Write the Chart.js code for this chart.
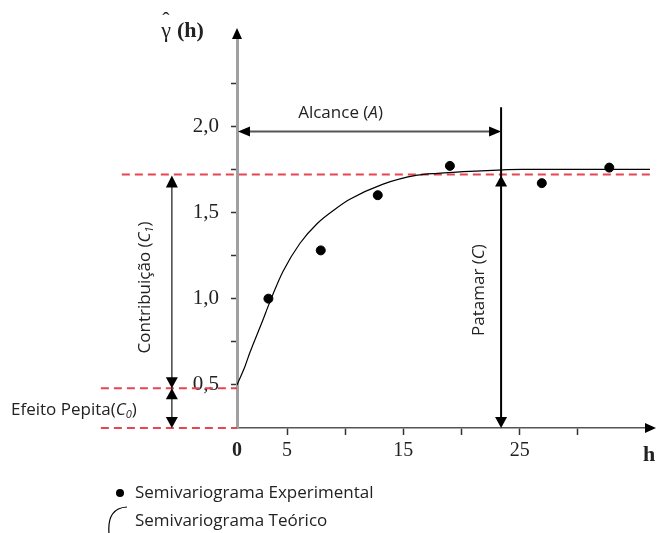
<!DOCTYPE html>
<html>
<head>
<meta charset="utf-8">
<script src="https://cdn.jsdelivr.net/npm/chart.js@4"></script>
<style>
  html, body { margin: 0; padding: 0; background: #fff; }
  #wrap { width: 657px; height: 533px; }
</style>
</head>
<body>
<div id="wrap"><canvas id="myChart"></canvas></div>
<script>
// semivariograma experimental (pontos)
const expH = [3.4, 7.9, 12.8, 19.0, 26.9, 32.7];
const expGamma = [1.0, 1.28, 1.60, 1.77, 1.67, 1.76];

// semivariograma teorico (curva)
const teoH = [0.7, 1.4, 1.8, 2.9, 3.5, 4.65, 6.1, 7.6, 9.1, 10.4, 13.2, 16.2, 17.9, 21.3, 25.2, 36.2];
const teoGamma = [0.5, 0.61, 0.686, 0.872, 0.977, 1.157, 1.32, 1.436, 1.517, 1.576, 1.663, 1.716, 1.727, 1.74, 1.75, 1.75];

// eixos
const xTicks = [0.7, 5, 10, 15, 20, 25, 30];
const xTickLabels = ['0', '5', '', '15', '', '25', ''];
const yTicks = [0.5, 0.75, 1, 1.25, 1.5, 1.75, 2, 2.25];
const yTickLabels = ['0,5', '', '1,0', '', '1,5', '', '2,0', ''];

// parametros marcados no grafico
const nugget = 0.48;   // C0
const sill = 1.72;     // C
const range = 23.4;    // A
const baseY = 0.25;
const leftMark = -4.9;   // posicao das setas C1 / C0
const dashStartLow = -11;
const dashStartSill = -9.2;

const sans = '"Open Sans", "Noto Sans", sans-serif';
const serif = '"Liberation Serif", "DejaVu Serif", serif';
const textSize = 17;

function arrowHead(ctx, x, y, dir, len, half) {
    len = len || 12;
    half = half || 6;
    ctx.beginPath();
    ctx.moveTo(x, y);
    if (dir === 'up') { ctx.lineTo(x - half, y + len); ctx.lineTo(x + half, y + len); }
    if (dir === 'down') { ctx.lineTo(x - half, y - len); ctx.lineTo(x + half, y - len); }
    if (dir === 'left') { ctx.lineTo(x + len, y - half); ctx.lineTo(x + len, y + half); }
    if (dir === 'right') { ctx.lineTo(x - len, y - half); ctx.lineTo(x - len, y + half); }
    ctx.closePath();
    ctx.fill();
}

// texto com partes em italico / subscrito
function richText(ctx, parts, x, y, align, size) {
    let total = 0;
    parts.forEach(p => {
        ctx.font = (p.italic ? 'italic ' : '') + (p.sub ? size * 0.65 : size) + 'px ' + sans;
        p.w = ctx.measureText(p.t).width;
        total += p.w;
    });
    let cx = align === 'center' ? x - total / 2 : x;
    ctx.textAlign = 'left';
    ctx.textBaseline = 'middle';
    parts.forEach(p => {
        ctx.font = (p.italic ? 'italic ' : '') + (p.sub ? size * 0.65 : size) + 'px ' + sans;
        ctx.fillText(p.t, cx, p.sub ? y + size * 0.3 : y);
        cx += p.w;
    });
}

const redLines = {
    id: 'redLines',
    beforeDatasetsDraw(chart) {
        const ctx = chart.ctx;
        const xs = chart.scales.x, ys = chart.scales.y;
        ctx.save();
        ctx.strokeStyle = 'rgb(228, 70, 82)';
        ctx.lineWidth = 2;
        ctx.setLineDash([8, 5]);
        const lines = [
            [dashStartLow, xs.min, baseY],
            [dashStartLow, xs.min, nugget],
            [dashStartSill, xs.max, sill]
        ];
        lines.forEach(l => {
            ctx.beginPath();
            ctx.moveTo(xs.getPixelForValue(l[0]), ys.getPixelForValue(l[2]));
            ctx.lineTo(xs.getPixelForValue(l[1]), ys.getPixelForValue(l[2]));
            ctx.stroke();
        });
        ctx.restore();
    }
};

const marks = {
    id: 'marks',
    afterDraw(chart) {
        const ctx = chart.ctx;
        const xs = chart.scales.x, ys = chart.scales.y;
        const area = chart.chartArea;
        ctx.save();
        ctx.fillStyle = '#000';

        // setas dos eixos
        arrowHead(ctx, area.left, area.top - 12, 'up', 11, 5);
        arrowHead(ctx, area.right + 6, area.bottom, 'right', 11, 5);

        // alcance
        const yA = ys.getPixelForValue(1.97);
        const x0 = xs.getPixelForValue(xs.min) + 1;
        const xA = xs.getPixelForValue(range);
        ctx.strokeStyle = '#555';
        ctx.lineWidth = 2;
        ctx.beginPath();
        ctx.moveTo(x0 + 6, yA);
        ctx.lineTo(xA - 6, yA);
        ctx.stroke();
        arrowHead(ctx, x0, yA, 'left', 12, 5);
        arrowHead(ctx, xA, yA, 'right', 12, 5);

        // patamar
        ctx.strokeStyle = '#000';
        ctx.lineWidth = 2;
        ctx.beginPath();
        ctx.moveTo(xA, ys.getPixelForValue(2.11));
        ctx.lineTo(xA, ys.getPixelForValue(baseY) - 6);
        ctx.stroke();
        arrowHead(ctx, xA, ys.getPixelForValue(sill) + 1, 'up', 11, 6);
        arrowHead(ctx, xA, ys.getPixelForValue(baseY), 'down', 11, 6);

        // contribuicao e efeito pepita
        const xl = xs.getPixelForValue(leftMark);
        ctx.strokeStyle = '#444';
        ctx.lineWidth = 1.5;
        ctx.beginPath();
        ctx.moveTo(xl, ys.getPixelForValue(sill) + 6);
        ctx.lineTo(xl, ys.getPixelForValue(baseY) - 6);
        ctx.stroke();
        arrowHead(ctx, xl, ys.getPixelForValue(sill) + 1, 'up', 12, 6);
        arrowHead(ctx, xl, ys.getPixelForValue(nugget), 'down', 11, 6);
        arrowHead(ctx, xl, ys.getPixelForValue(nugget), 'up', 11, 6);
        arrowHead(ctx, xl, ys.getPixelForValue(baseY), 'down', 11, 6);

        // textos
        ctx.fillStyle = '#222';
        richText(ctx, [{ t: 'Alcance (' }, { t: 'A', italic: true }, { t: ')' }],
            (x0 + xA) / 2 - 29, yA - 18, 'center', textSize);
        richText(ctx, [{ t: 'Efeito Pepita(' }, { t: 'C', italic: true }, { t: '0', italic: true, sub: true }, { t: ')' }],
            11, ys.getPixelForValue((nugget + baseY) / 2) + 2, 'left', textSize);

        ctx.save();
        ctx.translate(xl - 27, ys.getPixelForValue((sill + nugget) / 2) + 6);
        ctx.rotate(-Math.PI / 2);
        richText(ctx, [{ t: 'Contribuição (' }, { t: 'C', italic: true }, { t: '1', italic: true, sub: true }, { t: ')' }],
            0, 0, 'center', textSize);
        ctx.restore();

        ctx.save();
        ctx.translate(xA - 22, ys.getPixelForValue(1.05));
        ctx.rotate(-Math.PI / 2);
        richText(ctx, [{ t: 'Patamar (' }, { t: 'C', italic: true }, { t: ')' }], 0, 0, 'center', textSize);
        ctx.restore();

        // titulos dos eixos
        ctx.fillStyle = '#222';
        ctx.textAlign = 'center';
        ctx.textBaseline = 'alphabetic';
        ctx.font = '22px ' + serif;
        ctx.fillText('γ', 166, 37);
        ctx.fillText('ˆ', 166, 27);
        ctx.font = 'bold 22px ' + serif;
        ctx.textAlign = 'left';
        ctx.fillText('(h)', 177, 37);
        ctx.fillText('h', 643, 461);

        // legenda
        ctx.fillStyle = '#000';
        ctx.beginPath();
        ctx.arc(120, 493, 4, 0, Math.PI * 2);
        ctx.fill();
        ctx.strokeStyle = '#000';
        ctx.lineWidth = 1.2;
        ctx.beginPath();
        ctx.moveTo(109, 533);
        ctx.quadraticCurveTo(107, 508, 127, 507);
        ctx.stroke();
        ctx.fillStyle = '#222';
        richText(ctx, [{ t: 'Semivariograma Experimental' }], 135, 493, 'left', textSize);
        richText(ctx, [{ t: 'Semivariograma Teórico' }], 135, 521, 'left', textSize);

        ctx.restore();
    }
};

const ctx = document.getElementById('myChart').getContext('2d');
const chart = new Chart(ctx, {
    type: 'scatter',
    data: {
        datasets: [{
            label: 'Semivariograma Teórico',
            data: teoH.map((h, i) => ({ x: h, y: teoGamma[i] })),
            showLine: true,
            borderColor: '#000',
            borderWidth: 1.2,
            pointRadius: 0,
            cubicInterpolationMode: 'monotone'
        }, {
            label: 'Semivariograma Experimental',
            data: expH.map((h, i) => ({ x: h, y: expGamma[i] })),
            backgroundColor: '#000',
            borderColor: '#000',
            pointRadius: 4.5
        }]
    },
    options: {
        responsive: true,
        maintainAspectRatio: false,
        animation: false,
        layout: { padding: { top: 40, right: 7, bottom: 0, left: 0 } },
        plugins: { legend: { display: false }, tooltip: { enabled: false } },
        scales: {
            x: {
                type: 'linear',
                min: 0.7,
                max: 36.2,
                afterFit(scale) { scale.height = 105; },
                afterBuildTicks(scale) { scale.ticks = xTicks.map(v => ({ value: v })); },
                border: { color: '#555', width: 1.5 },
                grid: {
                    drawOnChartArea: false,
                    tickLength: 7,
                    tickWidth: 1.5,
                    tickColor: c => (c.index === 0 ? 'rgba(0,0,0,0)' : '#333')
                },
                ticks: {
                    padding: 4,
                    color: '#222',
                    maxRotation: 0,
                    autoSkip: false,
                    font: c => ({ family: serif, size: 20, weight: c.index === 0 ? 'bold' : 'normal' }),
                    callback: (v, i) => xTickLabels[i]
                }
            },
            y: {
                type: 'linear',
                min: 0.25,
                max: 2.5,
                afterFit(scale) { scale.width = 237; },
                afterBuildTicks(scale) { scale.ticks = yTicks.map(v => ({ value: v })); },
                border: { color: '#a0a0a0', width: 3 },
                grid: {
                    drawOnChartArea: false,
                    tickLength: 6,
                    tickWidth: 1.5,
                    tickColor: '#333'
                },
                ticks: {
                    padding: 12,
                    color: '#222',
                    autoSkip: false,
                    font: { family: serif, size: 21 },
                    callback: (v, i) => yTickLabels[i]
                }
            }
        }
    },
    plugins: [redLines, marks]
});
</script>
</body>
</html>
